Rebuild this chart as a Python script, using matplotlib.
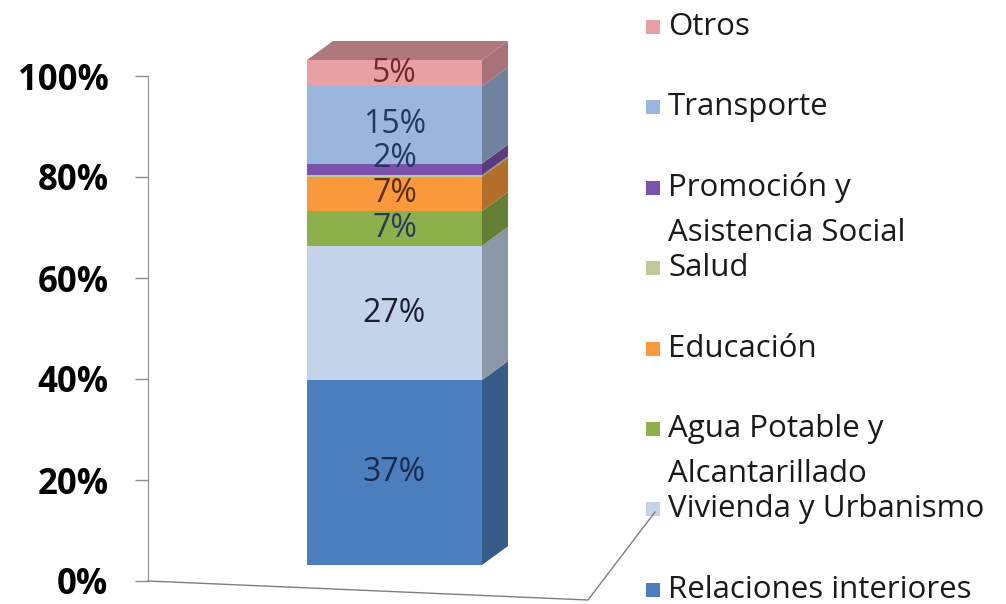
import matplotlib
matplotlib.use("Agg")
from matplotlib import pyplot as plt
from matplotlib.patches import Polygon, Rectangle
from matplotlib.lines import Line2D
import matplotlib.colors as mcolors
import numpy as np

# Composición del gasto (barra apilada 100%)

categories = ["Relaciones interiores", "Vivienda y Urbanismo",
              "Agua Potable y\nAlcantarillado", "Educación", "Salud",
              "Promoción y\nAsistencia Social", "Transporte", "Otros"]

values = [36.6, 26.6, 6.9, 6.8, 0.3, 2.3, 15.3, 5.2]

colors = ['#4A7EBD', '#C3D3EA', '#8CB04A', '#F9993B', '#BCCB98',
          '#7D52AE', '#9AB6DC', '#E8A0A6']

label_colors = ['#1B2A4A', '#1A1E2E', '#2A3A5A', '#5A2D0C', '#333333',
                '#1F3864', '#1F3864', '#6E2A2E']

ticks = [0, 20, 40, 60, 80, 100]
tick_labels = ["0%", "20%", "40%", "60%", "80%", "100%"]

W, H = 1006, 604
plt.rcParams['font.family'] = ['Open Sans', 'DejaVu Sans']
fig = plt.figure(figsize=(W / 100, H / 100), dpi=100)


def fx(px):
    return px / W


def fy(py):
    return 1 - py / H


# back wall / value axis
ax_wall = fig.add_axes([fx(148), fy(581), fx(590) - fx(148), fy(76) - fy(581)])
ax_wall.set_ylim(0, 100)
ax_wall.set_xlim(0, 1)
ax_wall.set_yticks(ticks)
ax_wall.set_yticklabels(tick_labels, fontsize=25, fontweight='bold')
ax_wall.set_xticks([])
for s in ['top', 'right', 'bottom']:
    ax_wall.spines[s].set_visible(False)
ax_wall.spines['left'].set_color('#8c8c8c')
ax_wall.tick_params(axis='y', direction='out', length=9.5, width=1,
                    color='#8c8c8c', pad=19)
ax_wall.patch.set_alpha(0)

# floor edges
fig.add_artist(Line2D([fx(148), fx(588), fx(655)], [fy(581), fy(600), fy(512)],
                      color='#7f7f7f', lw=1))

# 3D bar
ax_bar = fig.add_axes([fx(307), fy(565), fx(482) - fx(307), fy(60) - fy(565)])
ax_bar.set_xlim(-0.5, 0.5)
ax_bar.set_ylim(0, 100)
ax_bar.axis('off')

dx = 26 / 175
dy = 19 / 5.05

bottoms = np.concatenate([[0], np.cumsum(values)[:-1]])
for v, b, c in zip(values, bottoms, colors):
    side = mcolors.to_rgb(c)
    side = tuple(ch * 0.72 for ch in side)
    ax_bar.add_patch(Polygon([(0.5, b), (0.5 + dx, b + dy), (0.5 + dx, b + v + dy),
                              (0.5, b + v)], closed=True, facecolor=side,
                             edgecolor='none', clip_on=False))

ax_bar.bar([0], values[0], width=1, color=colors[0], clip_on=False)
for i in range(1, len(values)):
    ax_bar.bar([0], values[i], bottom=bottoms[i], width=1, color=colors[i],
               clip_on=False)

top = bottoms[-1] + values[-1]
top_col = tuple(ch * 0.75 for ch in mcolors.to_rgb(colors[-1]))
ax_bar.add_patch(Polygon([(-0.5, top), (-0.5 + dx, top + dy), (0.5 + dx, top + dy),
                          (0.5, top)], closed=True, facecolor=top_col,
                         edgecolor='none', clip_on=False))

for v, b, lc in zip(values, bottoms, label_colors):
    if round(v) < 1:
        continue
    # thin slices get their label on the upper edge
    y = b + v + 1 if v < 4 else b + v / 2
    ax_bar.text(0, y, "%.0f%%" % v, ha='center', va='center',
                fontsize=23, color=lc, clip_on=False)

# legend
for i, name in enumerate(categories[::-1]):
    c = colors[::-1][i]
    y = 27 + i * 80.4
    fig.add_artist(Rectangle((fx(646), fy(y + 7)), fx(14), fy(y - 7) - fy(y + 7),
                             facecolor=c, edgecolor='none'))
    for k, line in enumerate(name.split("\n")):
        fig.text(fx(668), fy(y + k * 45), line, fontsize=22.5, color='#1a1a1a',
                 ha='left', va='center')

plt.savefig('out.png', dpi=100)
